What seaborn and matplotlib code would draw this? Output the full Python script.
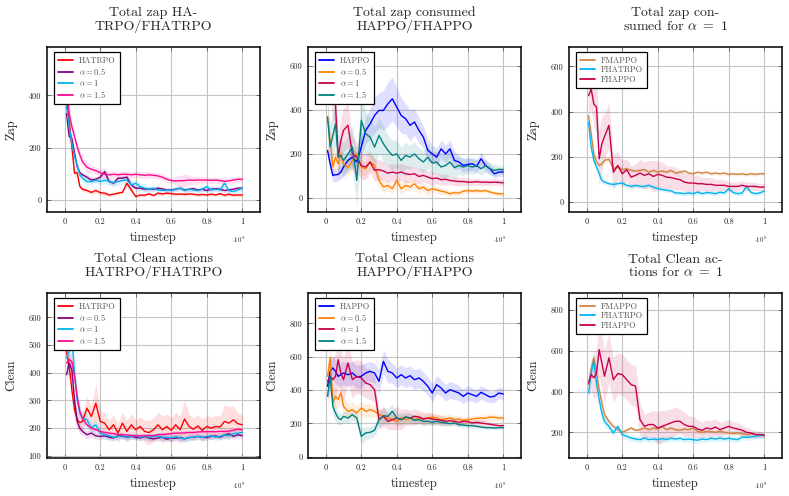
import numpy as np
import pandas as pd
import matplotlib
matplotlib.use("Agg")
import matplotlib.pyplot as plt
from matplotlib.lines import Line2D
import seaborn as sns

# timestep positions (x 1e8) shared by every curve
X = [0.01, 0.025, 0.04, 0.055, 0.07, 0.085, 0.1,
     0.125, 0.15, 0.175, 0.2, 0.225, 0.25, 0.275, 0.3, 0.325, 0.35, 0.375, 0.4,
     0.425, 0.45, 0.475, 0.5, 0.525, 0.55, 0.575, 0.6, 0.625, 0.65, 0.675, 0.7,
     0.725, 0.75, 0.775, 0.8, 0.825, 0.85, 0.875, 0.9, 0.925, 0.95, 0.975, 1.0]

# --- Total zap HATRPO/FHATRPO ---
zap_hatrpo = [390, 300, 205, 103, 105, 52, 42,
              37, 30, 37, 29, 27, 20, 23, 27, 30, 65, 39, 14, 20, 19, 24, 18, 27, 24, 27, 25, 23,
              24, 22, 24, 23, 20, 22, 20, 23, 20, 25, 19, 23, 19, 20, 20]
zap_hatrpo_a05 = [331, 243, 236, 179, 128, 105, 97,
                  88, 77, 80, 88, 109, 71, 65, 84, 84, 88, 58, 46, 46, 42, 43, 42, 46, 43, 39, 39, 42,
                  46, 39, 42, 44, 39, 42, 37, 42, 44, 42, 37, 39, 42, 46, 46]
zap_hatrpo_a1 = [357, 281, 217, 166, 135, 97, 84,
                 71, 71, 77, 71, 77, 71, 67, 71, 75, 77, 58, 65, 52, 46, 42, 46, 39, 37, 39, 37, 42,
                 46, 37, 42, 39, 37, 42, 52, 39, 42, 39, 65, 37, 33, 39, 46]
zap_hatrpo_a15 = [440, 331, 281, 243, 204, 173, 147,
                  126, 118, 113, 105, 100, 97, 99, 97, 99, 99, 97, 99, 97, 95, 97, 95, 93, 88, 80, 75, 74,
                  74, 75, 77, 76, 77, 77, 77, 76, 77, 75, 72, 74, 77, 80, 80]

# --- Total zap HAPPO/FHAPPO ---
zap_happo = [216, 155, 102, 105, 106, 117, 140,
             170, 185, 163, 231, 307, 337, 375, 398, 398, 428, 451, 413, 375, 360, 330, 345, 307, 276, 216, 200, 185,
             223, 200, 223, 170, 163, 147, 152, 155, 143, 178, 147, 132, 109, 117, 117]
zap_happo_a05 = [368, 261, 140, 185, 155, 200, 155,
                 137, 170, 200, 140, 132, 163, 147, 79, 49, 56, 41, 79, 41, 56, 49, 64, 41, 49, 33, 41, 36,
                 30, 26, 18, 24, 21, 30, 33, 30, 33, 30, 33, 26, 21, 18, 18]
zap_happo_a1 = [504, 535, 459, 421, 185, 261, 307,
                330, 200, 185, 147, 140, 163, 125, 128, 122, 112, 117, 112, 117, 109, 106, 109, 97, 102, 94, 87, 90,
                82, 84, 79, 76, 74, 74, 71, 71, 73, 71, 71, 70, 71, 70, 68]
zap_happo_a15 = [368, 231, 284, 337, 185, 193, 170,
                 200, 231, 79, 352, 292, 276, 231, 284, 246, 216, 193, 200, 170, 193, 185, 200, 178, 163, 185, 158, 163,
                 140, 147, 163, 137, 147, 140, 147, 140, 147, 132, 147, 132, 125, 129, 128]

# --- Total zap for alpha = 1 ---
zap_fmappo = [383, 302, 214, 178, 163, 170, 185,
              190, 148, 156, 144, 148, 141, 138, 141, 144, 133, 141, 133, 138, 133, 141, 129, 133, 138, 129, 126, 133,
              129, 133, 126, 129, 126, 129, 123, 126, 123, 126, 122, 126, 123, 126, 126]
zap_fhatrpo = [354, 244, 185, 156, 126, 97, 89,
               82, 79, 82, 85, 75, 70, 75, 70, 70, 75, 67, 60, 56, 53, 50, 41, 41, 38, 41, 38, 45,
               38, 43, 41, 38, 44, 41, 60, 43, 38, 41, 70, 44, 38, 41, 50]
zap_fhappo = [471, 500, 434, 420, 192, 258, 290,
              340, 133, 163, 126, 144, 111, 119, 129, 119, 126, 114, 123, 119, 111, 109, 104, 100, 89, 85, 85, 82,
              82, 79, 79, 75, 75, 75, 70, 70, 70, 75, 70, 70, 70, 67, 67]

# --- Total Clean actions HATRPO/FHATRPO ---
clean_hatrpo = [477, 423, 339, 266, 230, 220, 224,
                272, 242, 290, 224, 218, 194, 212, 182, 218, 188, 212, 194, 206, 188, 184, 194, 212, 194, 206, 192, 212,
                194, 233, 206, 196, 208, 192, 206, 200, 206, 204, 224, 218, 230, 216, 212]
clean_hatrpo_a05 = [393, 435, 411, 302, 224, 200, 188,
                    176, 182, 172, 170, 172, 167, 164, 172, 170, 167, 170, 167, 164, 170, 164, 161, 164, 167, 160, 164, 163,
                    166, 161, 166, 167, 170, 167, 166, 170, 172, 167, 175, 180, 170, 176, 172]
clean_hatrpo_a1 = [453, 477, 531, 399, 302, 254, 236,
                   230, 200, 212, 182, 176, 172, 167, 170, 172, 167, 170, 172, 167, 170, 167, 170, 172, 166, 167, 164, 170,
                   164, 161, 166, 167, 170, 166, 170, 172, 167, 170, 176, 172, 180, 182, 184]
clean_hatrpo_a15 = [435, 447, 441, 387, 314, 260, 236,
                    212, 200, 194, 188, 184, 182, 180, 177, 176, 175, 173, 172, 172, 172, 173, 173, 176, 177, 178, 180, 182,
                    182, 183, 184, 184, 186, 187, 187, 187, 187, 188, 188, 189, 192, 196, 194]

# --- Total Clean actions HAPPO/FHAPPO ---
clean_happo = [422, 512, 532, 512, 482, 492, 502,
               492, 502, 478, 482, 502, 512, 502, 452, 572, 512, 502, 472, 492, 472, 486, 462, 472, 452, 422, 382, 432,
               412, 382, 402, 392, 382, 362, 382, 372, 362, 386, 372, 358, 362, 382, 376]
clean_happo_a05 = [482, 592, 322, 362, 342, 382, 302,
                   272, 282, 262, 292, 272, 282, 272, 252, 242, 232, 222, 212, 232, 222, 232, 222, 232, 226, 232, 238, 232,
                   222, 226, 232, 222, 226, 216, 222, 226, 230, 232, 230, 238, 236, 232, 232]
clean_happo_a1 = [452, 482, 462, 482, 582, 502, 462,
                  562, 462, 482, 472, 442, 432, 402, 222, 242, 212, 222, 232, 222, 238, 232, 242, 238, 226, 232, 226, 222,
                  218, 212, 216, 212, 206, 212, 210, 202, 206, 202, 198, 194, 190, 186, 186]
clean_happo_a15 = [362, 482, 302, 262, 232, 222, 242,
                   232, 252, 232, 122, 142, 146, 158, 222, 246, 242, 272, 232, 222, 238, 232, 218, 222, 212, 212, 206, 212,
                   206, 202, 198, 202, 192, 190, 186, 186, 182, 178, 174, 174, 172, 174, 174]

# --- Total Clean actions for alpha = 1 ---
clean_fmappo = [434, 507, 565, 491, 409, 344, 287,
                254, 229, 213, 200, 210, 221, 210, 213, 221, 213, 221, 216, 229, 213, 221, 213, 210, 216, 213, 221, 205,
                200, 205, 203, 200, 205, 200, 197, 193, 197, 193, 189, 192, 189, 187, 189]
clean_fhatrpo = [393, 491, 548, 442, 360, 295, 254,
                 229, 197, 229, 189, 180, 172, 167, 164, 172, 164, 167, 164, 169, 164, 171, 167, 171, 164, 167, 164, 161,
                 167, 164, 171, 167, 172, 167, 171, 167, 164, 177, 175, 177, 180, 184, 185]
clean_fhappo = [442, 483, 467, 491, 605, 540, 475,
                565, 458, 488, 483, 458, 434, 426, 262, 229, 238, 238, 221, 229, 238, 246, 254, 254, 238, 229, 229, 216,
                210, 221, 216, 226, 213, 221, 229, 221, 216, 210, 200, 197, 189, 189, 185]

# half-width of the shaded spread around each curve
band_zap_hatrpo = [20, 25, 25, 15, 15, 10, 8] + [8] * 5 + [6] * 4 + [15, 10] + [6] * 25
band_zap_hatrpo_a05 = [20, 25, 20, 15, 12, 10, 10] + [10] * 4 + [15] + [10] * 6 + [8] * 25
band_zap_hatrpo_a1 = [20, 25, 20, 18, 15, 15, 15] + [15, 12, 12, 12, 15, 15, 15, 15, 15, 20, 20, 15, 15, 15, 12, 12, 12,
                                                    12, 10, 10, 10, 12, 10, 10, 10, 10, 10, 15, 12, 10, 10, 15, 12, 10, 10, 10]
band_zap_hatrpo_a15 = [30, 25, 20, 20, 20, 20, 20] + [20, 15, 15, 15, 15, 15, 12, 12, 12, 12, 12, 12, 12, 12, 12, 12, 12,
                                                     12, 12, 12, 15, 20, 25, 20, 15, 15, 12, 12, 12, 12, 12, 12, 12, 12, 10, 10]
band_zap_happo = [40, 40, 30, 30, 30, 30, 40] + [40, 40, 40, 50, 60, 70, 80, 80, 90, 100, 100, 90, 80, 70, 70, 60, 60,
                                                50, 50, 40, 40, 40, 40, 40, 40, 30, 30, 30, 30, 30, 30, 25, 25, 20, 20, 20]
band_zap_happo_a05 = [60, 60, 50, 40, 40, 40, 40] + [40, 40, 40, 35, 35, 35, 35, 30, 25, 25, 25, 25, 25, 25, 20, 20, 20,
                                                    20, 20, 15, 15, 15, 15, 12, 12, 12, 12, 12, 12, 10, 10, 10, 10, 10, 10, 10]
band_zap_happo_a1 = [80, 90, 100, 100, 100, 100, 100] + [100, 80, 70, 60, 60, 50, 50, 45, 45, 40, 40, 40, 40, 40, 35, 35,
                                                        35, 30, 30, 30, 25, 25, 25, 20, 20, 20, 20, 15, 15, 15, 15, 15, 15, 15, 15, 15]
band_zap_happo_a15 = [100, 100, 100, 100, 80, 80, 80] + [80, 100, 120, 120, 100, 90, 90, 80, 80, 70, 70, 60, 60, 60, 55,
                                                        55, 50, 50, 50, 50, 50, 50, 60, 60, 50, 40, 40, 35, 35, 30, 30, 30, 25, 25, 20, 20]
band_zap_fmappo = [20, 20, 15, 15, 12, 12, 12] + [12, 10, 10, 10, 10, 10] + [8] * 30
band_zap_fhatrpo = [20, 20, 20, 20, 15, 15, 12] + [12, 12, 12] + [10] * 33
band_zap_fhappo = [80, 90, 100, 120, 120, 120, 100] + [100, 80, 60, 60, 50, 50, 50, 60, 60, 60, 70, 60, 60, 50, 50, 50,
                                                      45, 40, 40, 35, 35, 30, 30, 30, 25, 25, 25, 20, 20, 20, 20, 20, 18, 18, 15, 15]
band_clean_hatrpo = [40, 40, 40, 35, 35, 30, 30] + [40, 40, 70, 40, 35, 35, 35, 35, 40, 40, 40, 35, 35, 40, 45, 40, 45,
                                                   50, 45, 45, 45, 50, 70, 45, 40, 40, 40, 40, 40, 40, 40, 60, 60, 50, 40, 35]
band_clean_hatrpo_a05 = [30, 30, 30, 25, 20, 20, 15] + [15, 15, 12, 12, 12] + [10] * 31
band_clean_hatrpo_a1 = [40, 50, 60, 50, 40, 30, 25] + [25, 20, 20, 15, 15] + [12] * 31
band_clean_hatrpo_a15 = [25, 25, 25, 25, 20, 20, 15] + [12, 10, 10, 10, 10] + [8] * 31
band_clean_happo = [60, 70, 70, 70, 70, 70, 70] + [70, 70, 70, 70, 60, 60, 60, 70, 70, 70, 60, 60, 60, 60, 60, 60, 60,
                                                  55, 55, 55, 55, 50, 50, 50, 50, 45, 45, 45, 40, 40, 40, 40, 35, 35, 35, 35]
band_clean_happo_a05 = [60, 60, 60, 60, 50, 50, 50] + [45, 45, 45, 40, 40, 40, 35, 35, 35, 30, 30, 30, 30, 30, 30, 30, 30,
                                                      25, 25, 25, 25, 25, 25, 25, 25, 25, 20, 20, 20, 20, 20, 20, 20, 20, 20, 20]
band_clean_happo_a1 = [100, 120, 130, 130, 130, 130, 130] + [120, 110, 100, 100, 90, 90, 80, 60, 60, 50, 60, 70, 60, 50,
                                                            45, 45, 40, 40, 35, 35, 30, 30, 30, 25, 25, 25, 25, 20, 20, 20, 20, 20, 15, 15, 15, 15]
band_clean_happo_a15 = [60, 60, 60, 50, 40, 35, 35] + [35, 35, 40, 50, 40, 35, 35, 45, 50, 50, 45, 40, 35, 30, 30, 30, 25,
                                                      25, 20, 20, 20, 20, 15, 15, 15, 15, 15, 15, 12, 12, 12, 12, 10, 10, 10, 10]
band_clean_fmappo = [40, 40, 40, 35, 30, 25, 20] + [15, 15, 12, 12, 12] + [10] * 31
band_clean_fhatrpo = [40, 40, 50, 45, 35, 30, 25] + [20, 18, 18] + [15] * 33
band_clean_fhappo = [60, 80, 100, 120, 130, 130, 130] + [120, 110, 100, 100, 100, 100, 100, 80, 60, 60, 70, 80, 80, 70,
                                                        70, 70, 60, 60, 50, 50, 45, 40, 40, 40, 40, 35, 35, 35, 30, 30, 25, 25, 20, 20, 15, 15]

# colours
RED = '#ff0000'
PURPLE = '#800080'
SKY = '#00b4f0'
MAGENTA = '#ff0a8c'
BLUE = '#0000ff'
ORANGE = '#ff8000'
CRIMSON = '#c8004b'
TEAL = '#008080'
PERU = '#cd8540'

A05 = r'$\alpha{=}0.5$'
A1 = r'$\alpha{=}1$'
A15 = r'$\alpha{=}1.5$'

panels = [
    dict(title='Total zap HA-\nTRPO/FHATRPO', ylabel='Zap', ylim=(-45, 585), yticks=[0, 200, 400],
         series=[('HATRPO', zap_hatrpo, band_zap_hatrpo, RED),
                 (A05, zap_hatrpo_a05, band_zap_hatrpo_a05, PURPLE),
                 (A1, zap_hatrpo_a1, band_zap_hatrpo_a1, SKY),
                 (A15, zap_hatrpo_a15, band_zap_hatrpo_a15, MAGENTA)]),
    dict(title='Total zap consumed\nHAPPO/FHAPPO', ylabel='Zap', ylim=(-65, 687), yticks=[0, 200, 400, 600],
         series=[('HAPPO', zap_happo, band_zap_happo, BLUE),
                 (A05, zap_happo_a05, band_zap_happo_a05, ORANGE),
                 (A1, zap_happo_a1, band_zap_happo_a1, CRIMSON),
                 (A15, zap_happo_a15, band_zap_happo_a15, TEAL)]),
    dict(title='Total zap con-\nsumed for ' + r'$\alpha\ =\ 1$', ylabel='Zap', ylim=(-43, 686),
         yticks=[0, 200, 400, 600],
         series=[('FMAPPO', zap_fmappo, band_zap_fmappo, PERU),
                 ('FHATRPO', zap_fhatrpo, band_zap_fhatrpo, SKY),
                 ('FHAPPO', zap_fhappo, band_zap_fhappo, CRIMSON)]),
    dict(title='Total Clean actions\nHATRPO/FHATRPO', ylabel='Clean', ylim=(92, 688),
         yticks=[100, 200, 300, 400, 500, 600],
         series=[('HATRPO', clean_hatrpo, band_clean_hatrpo, RED),
                 (A05, clean_hatrpo_a05, band_clean_hatrpo_a05, PURPLE),
                 (A1, clean_hatrpo_a1, band_clean_hatrpo_a1, SKY),
                 (A15, clean_hatrpo_a15, band_clean_hatrpo_a15, MAGENTA)]),
    dict(title='Total Clean actions\nHAPPO/FHAPPO', ylabel='Clean', ylim=(-8, 982), yticks=[0, 200, 400, 600, 800],
         series=[('HAPPO', clean_happo, band_clean_happo, BLUE),
                 (A05, clean_happo_a05, band_clean_happo_a05, ORANGE),
                 (A1, clean_happo_a1, band_clean_happo_a1, CRIMSON),
                 (A15, clean_happo_a15, band_clean_happo_a15, TEAL)]),
    dict(title='Total Clean ac-\ntions for ' + r'$\alpha\ =\ 1$', ylabel='Clean', ylim=(74, 883),
         yticks=[200, 400, 600, 800],
         series=[('FMAPPO', clean_fmappo, band_clean_fmappo, PERU),
                 ('FHATRPO', clean_fhatrpo, band_clean_fhatrpo, SKY),
                 ('FHAPPO', clean_fhappo, band_clean_fhappo, CRIMSON)]),
]

XTICKS = [0, 0.2, 0.4, 0.6, 0.8, 1]
XTICKLABELS = ['0', '0.2', '0.4', '0.6', '0.8', '1']

sns.set_theme(style="whitegrid")
plt.rcParams['font.family'] = ['cmr10', 'DejaVu Serif']
plt.rcParams['mathtext.fontset'] = 'cm'
plt.rcParams['axes.formatter.use_mathtext'] = True

fig = plt.figure(figsize=(7.89, 4.96), dpi=100)
W, H = 789, 496
lefts = [47, 308, 569]
tops = [47, 293]
aw, ah = 213, 165

for i, p in enumerate(panels):
    l = lefts[i % 3]
    t = tops[i // 3]
    ax = fig.add_axes([l / W, (H - t - ah) / H, aw / W, ah / H])

    rows = []
    for label, vals, band, color in p['series']:
        if len(vals) != len(X) or len(band) != len(X):
            raise ValueError(f"length mismatch in {p['title']} / {label}: {len(vals)} {len(band)}")
        v = np.array(vals, dtype=float)
        b = np.array(band, dtype=float)
        ax.fill_between(X, v - b, v + b, color=color, alpha=0.13, linewidth=0)
        rows.append(pd.DataFrame({'timestep': X, 'value': vals, 'series': label}))
    df = pd.concat(rows, ignore_index=True)
    order = [s[0] for s in p['series']]
    palette = {s[0]: s[3] for s in p['series']}
    sns.lineplot(data=df, x='timestep', y='value', hue='series', hue_order=order,
                 palette=palette, linewidth=1.0, legend=False, ax=ax)

    ax.set_xlim(-0.1, 1.1)
    ax.set_ylim(*p['ylim'])
    ax.set_xticks(XTICKS)
    ax.set_xticklabels(XTICKLABELS)
    ax.set_yticks(p['yticks'])
    ax.set_yticklabels([str(v) for v in p['yticks']])
    ax.tick_params(labelsize=6, direction='in', length=3, width=0.6, color='0.35',
                   top=True, right=True, bottom=True, left=True, pad=4)
    ax.grid(True, color='#c4c4c4', linewidth=0.8)
    for sp in ax.spines.values():
        sp.set_edgecolor('black')
        sp.set_linewidth(1.1)

    ax.set_title(p['title'], fontsize=10, pad=12, linespacing=1.05)
    ax.set_xlabel('timestep', fontsize=9)
    ax.set_ylabel(p['ylabel'], fontsize=9)
    ax.xaxis.set_label_coords(0.5, -0.12)
    ax.yaxis.set_label_coords(-0.14, 0.5)
    ax.text(0.9, -0.17, r'$\cdot 10^{8}$', transform=ax.transAxes, fontsize=5,
            ha='center', va='center')

    handles = [Line2D([0], [0], color=s[3], linewidth=1.3) for s in p['series']]
    leg = ax.legend(handles, order, loc='upper left', bbox_to_anchor=(0.033, 0.97),
                    borderaxespad=0, fontsize=6, labelspacing=0.15, handlelength=1.8,
                    handletextpad=0.7, borderpad=0.5, fancybox=False, framealpha=1,
                    labelcolor='#555555')
    leg.get_frame().set_edgecolor('black')
    leg.get_frame().set_linewidth(0.9)

fig.savefig('out.png', dpi=100)
